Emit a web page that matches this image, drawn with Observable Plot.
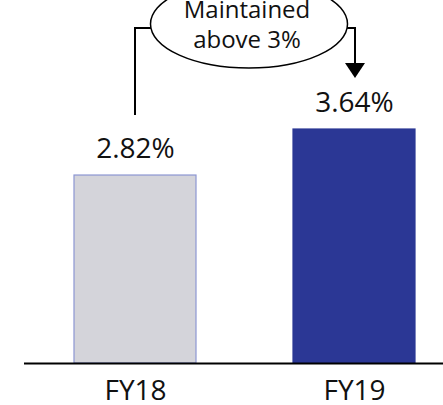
<!DOCTYPE html>
<html>
<head>
<meta charset="utf-8">
<script src="https://cdn.jsdelivr.net/npm/d3@7"></script>
<script src="https://cdn.jsdelivr.net/npm/@observablehq/plot@0.6"></script>
<style>
  html, body { margin: 0; padding: 0; background: #fff; }
  #chart svg { display: block; }
</style>
</head>
<body>
<div id="chart"></div>
<script>
// Fiscal years and the ratio reported for each
const categories = ["FY18", "FY19"];
const values = [2.82, 3.64];
const valueLabels = ["2.82%", "3.64%"];
const barFills = ["#d4d4da", "#2b3795"];
const barStrokes = ["#8c96d2", "#2b3795"];
const noteLines = ["Maintained", "above 3%"];

// Value axis floor (the axis is hidden; bars rise from this line)
const yFloor = -0.53;

const data = categories.map((cat, i) => ({
  cat, value: values[i], label: valueLabels[i], fill: barFills[i], stroke: barStrokes[i]
}));

const font = "'Open Sans', 'Noto Sans', sans-serif";

const chart = Plot.plot({
  width: 443,
  height: 405,
  marginLeft: 24,
  marginRight: 0,
  marginTop: 0,
  marginBottom: 42,
  style: { fontFamily: font, background: "#fff", color: "#000", overflow: "visible" },
  x: { domain: categories, range: [73, 415], paddingInner: 0.443, paddingOuter: 0, axis: null },
  y: { domain: [yFloor, d3.max(values)], range: [363, 129], axis: null },
  marks: [
    Plot.barY(data, { x: "cat", y1: yFloor, y2: "value", fill: "fill", stroke: "stroke", strokeWidth: 1.2 }),
    Plot.ruleY([yFloor], { stroke: "#000", strokeWidth: 2 }),
    Plot.text(data, { x: "cat", y: "value", text: "label", lineAnchor: "top", dy: -37, fontSize: 28, fill: "#111" }),
    Plot.text(data, { x: "cat", y: yFloor, text: "cat", lineAnchor: "top", dy: 17, fontSize: 28, fill: "#111" })
  ]
});

document.getElementById("chart").appendChild(chart);

// Callout: ellipse note linking the two bar labels
const sx = chart.scale("x"), sy = chart.scale("y");
const xc = c => sx.apply(c) + sx.bandwidth / 2;
const x0 = xc(categories[0]), x1 = xc(categories[1]) + 1;
const ex = (x0 + x1) / 2 + 4, ey = 24, rx = 98.5, ry = 44;
const joinY = 28;

const svg = d3.select(chart);
const g = svg.append("g").attr("fill", "none").attr("stroke", "#000");

g.append("ellipse")
  .attr("cx", ex).attr("cy", ey).attr("rx", rx).attr("ry", ry)
  .attr("fill", "#fff").attr("stroke-width", 1.5);

// left connector: from above the FY18 label up and into the ellipse
g.append("path")
  .attr("stroke-width", 2)
  .attr("d", `M${x0},${sy.apply(values[0]) - 60}V${joinY}H${ex - Math.sqrt(1 - ((joinY - ey) / ry) ** 2) * rx}`);

// right connector: out of the ellipse and down towards the FY19 label
const tipY = sy.apply(values[1]) - 51;
g.append("path")
  .attr("stroke-width", 2)
  .attr("d", `M${ex + Math.sqrt(1 - ((joinY - ey) / ry) ** 2) * rx},${joinY}H${x1}V${tipY - 14}`);
g.append("path")
  .attr("fill", "#000").attr("stroke", "none")
  .attr("d", `M${x1 - 10},${tipY - 15}H${x1 + 10}L${x1},${tipY}Z`);

const t = svg.append("text")
  .attr("text-anchor", "middle")
  .attr("font-family", font)
  .attr("font-size", 24)
  .attr("fill", "#111");
noteLines.forEach((line, i) => {
  t.append("tspan").attr("x", ex - 2).attr("y", 18 + i * 30).text(line);
});
</script>
</body>
</html>
